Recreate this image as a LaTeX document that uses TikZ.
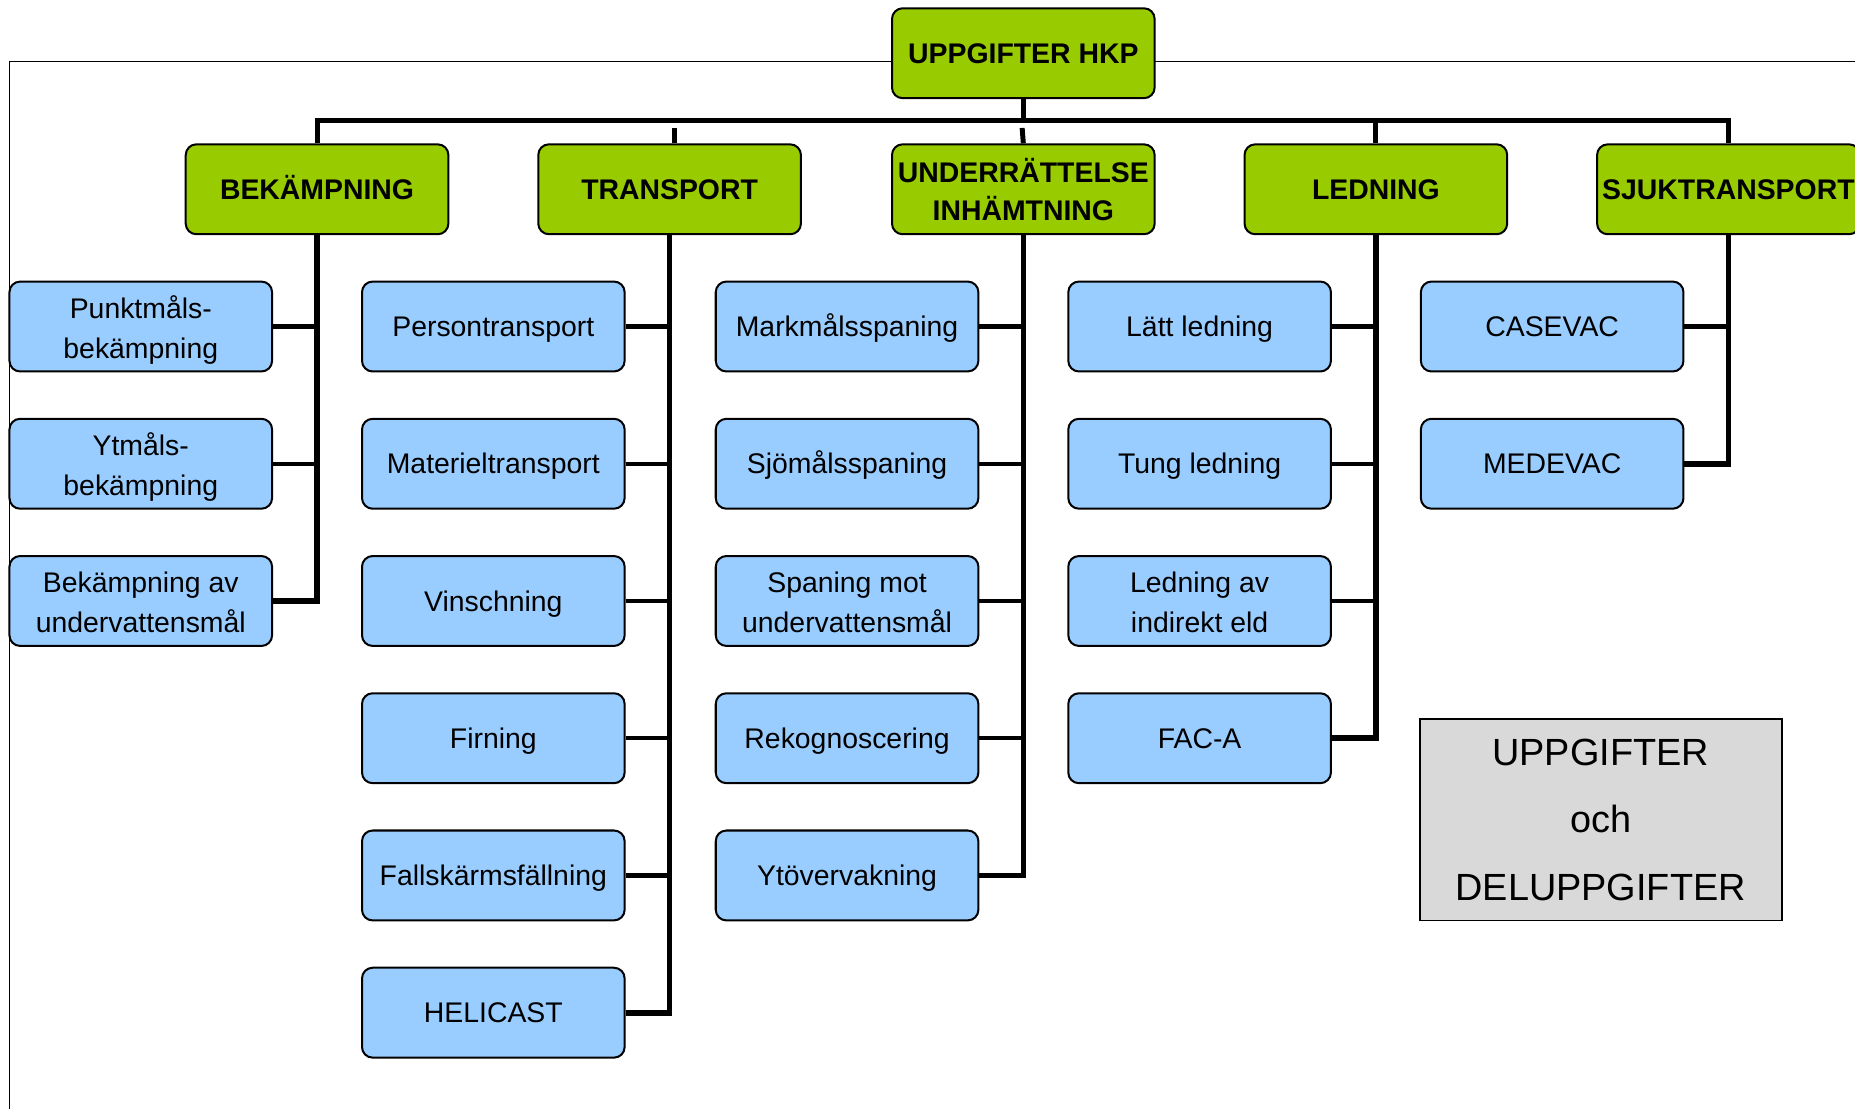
\documentclass[tikz,border=0pt]{standalone}
\usepackage{fontspec}
\setmainfont{Liberation Sans}
\definecolor{catgreen}{HTML}{99CC00}
\definecolor{subblue}{HTML}{99CCFF}
\definecolor{legendgray}{HTML}{D9D9D9}
\begin{document}
\begin{tikzpicture}[x=0.5pt,y=-0.5pt,
  catbox/.style={draw, rounded corners=4.5pt, fill=catgreen, line width=0.85pt,
    minimum width=111pt, minimum height=38pt, inner sep=0pt, align=center,
    font=\bfseries\fontsize{12}{16}\selectfont},
  subbox/.style={draw, rounded corners=4.5pt, fill=subblue, line width=0.85pt,
    minimum width=111pt, minimum height=38pt, inner sep=0pt, align=center,
    font=\fontsize{12}{17}\selectfont},
  oneline/.style={text height=8.6pt, text depth=0pt},
  twoline/.style={text height=27pt, text depth=0pt},
  spine/.style={line width=2.4pt, line join=miter},
  branch/.style={line width=1.8pt},
  busline/.style={line width=2.1pt, line join=miter},
  frameline/.style={line width=0.7pt}]
\useasboundingbox (0,0) rectangle (1568,937);
% outer frame
\draw[frameline] (8,945) -- (8,52) -- (1580,52);
% root
\node[catbox, oneline] (root) at (865,45) {UPPGIFTER HKP};
% categories
\node[catbox, oneline] (bek) at (268,160) {BEKÄMPNING};
\node[catbox, oneline] (tra) at (566,160) {TRANSPORT};
\node[catbox] (und) at (865,160) {UNDERRÄTTELSE\\INHÄMTNING};
\node[catbox, oneline] (led) at (1163,160) {LEDNING};
\node[catbox, oneline] (sju) at (1461,160) {SJUKTRANSPORT};
% sub tasks
\node[subbox, twoline] (b1) at (119,276) {Punktmåls-\\bekämpning};
\node[subbox, twoline] (b2) at (119,392) {Ytmåls-\\bekämpning};
\node[subbox, twoline] (b3) at (119,508) {Bekämpning av\\undervattensmål};
\node[subbox, oneline] (t1) at (417,276) {Persontransport};
\node[subbox, oneline] (t2) at (417,392) {Materieltransport};
\node[subbox, oneline] (t3) at (417,508) {Vinschning};
\node[subbox, oneline] (t4) at (417,624) {Firning};
\node[subbox, oneline] (t5) at (417,740) {Fallskärmsfällning};
\node[subbox, oneline] (t6) at (417,856) {HELICAST};
\node[subbox, oneline] (u1) at (716,276) {Markmålsspaning};
\node[subbox, oneline] (u2) at (716,392) {Sjömålsspaning};
\node[subbox, twoline] (u3) at (716,508) {Spaning mot\\undervattensmål};
\node[subbox, oneline] (u4) at (716,624) {Rekognoscering};
\node[subbox, oneline] (u5) at (716,740) {Ytövervakning};
\node[subbox, oneline] (l1) at (1014,276) {Lätt ledning};
\node[subbox, oneline] (l2) at (1014,392) {Tung ledning};
\node[subbox, twoline] (l3) at (1014,508) {Ledning av\\indirekt eld};
\node[subbox, oneline] (l4) at (1014,624) {FAC-A};
\node[subbox, oneline] (s1) at (1312,276) {CASEVAC};
\node[subbox, oneline] (s2) at (1312,392) {MEDEVAC};
% legend
\node[draw, fill=legendgray, line width=0.75pt, minimum width=153pt, minimum height=85pt,
  inner sep=0pt, align=center, font=\fontsize{16}{28.5}\selectfont] (leg) at (1353,693)
  {UPPGIFTER\\och\\DELUPPGIFTER};
% bus
\coordinate (bus) at (865,102);
\draw[busline] (root.south) -- (bus);
\draw[busline] (bek.north) -- (bek.north |- bus) -- (sju.north |- bus) -- (sju.north);
\draw[busline] (led.north) -- (led.north |- bus);
% short stubs (not reaching the bus)
\draw[busline] ([xshift=2]tra.north) -- ++(0,-13);
\draw[busline] (und.north) -- ++(-1,-13);
% spines
\draw[spine] (bek.south) -- (bek.south |- b3.east) -- (b3.east);
\foreach \c in {b1,b2} \draw[branch] (\c.east) -- (\c.east -| bek.south);
\draw[spine] (tra.south) -- (tra.south |- t6.east) -- (t6.east);
\foreach \c in {t1,t2,t3,t4,t5} \draw[branch] (\c.east) -- (\c.east -| tra.south);
\draw[spine] (und.south) -- (und.south |- u5.east) -- (u5.east);
\foreach \c in {u1,u2,u3,u4} \draw[branch] (\c.east) -- (\c.east -| und.south);
\draw[spine] (led.south) -- (led.south |- l4.east) -- (l4.east);
\foreach \c in {l1,l2,l3} \draw[branch] (\c.east) -- (\c.east -| led.south);
\draw[spine] (sju.south) -- (sju.south |- s2.east) -- (s2.east);
\draw[branch] (s1.east) -- (s1.east -| sju.south);
\end{tikzpicture}
\end{document}
